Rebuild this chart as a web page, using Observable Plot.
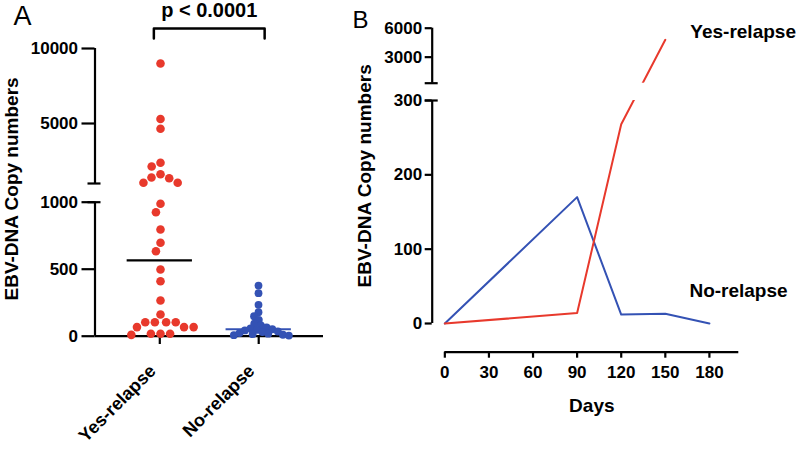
<!DOCTYPE html>
<html><head><meta charset="utf-8">
<script src="https://cdn.jsdelivr.net/npm/d3@7"></script>
<script src="https://cdn.jsdelivr.net/npm/@observablehq/plot@0.6"></script>
<style>
body{margin:0;background:#fff;}
#wrap{position:relative;width:797px;height:449px;overflow:hidden;}
#wrap svg{position:absolute;top:0;}
</style></head><body><div id="wrap"></div>
<script>
// ---------- data ----------
const groups = ["Yes-relapse", "No-relapse"];
const yesRelapse = [9000, 5300, 4650, 2380, 2130, 1620, 1400, 1350, 1050, 1050,
  988, 925, 796, 697, 634, 498, 410, 266, 162, 104, 104, 104, 104, 68, 68, 68, 18, 18, 18, 10];
const noRelapse = [378, 321, 234, 179, 149, 122, 93, 80, 66, 58, 52, 47, 43, 35, 31, 23, 19, 15, 11, 8, 5];
const pLabel = "p < 0.0001";
const aLowerTicks = [0, 500, 1000];
const aUpperTicks = [5000, 10000];
const aLower = [0, 1000], aUpper = [1000, 10000];

const dayTicks = [0, 30, 60, 90, 120, 150, 180];
const yesDays = [0, 90, 120, 150];
const yesValues = [0, 14, 268, 4800];
const noDays = [0, 90, 120, 150, 180];
const noValues = [0, 170, 12, 13, 0];
const bLowerTicks = [0, 100, 200, 300];
const bUpperTicks = [3000, 6000];
const bLower = [0, 300], bUpper = [300, 6000];
const yTitle = "EBV-DNA Copy numbers";
const xTitle = "Days";

// ---------- style ----------
const RED = "#e8392c", BLUE = "#3452b4";
const FONT = "font-family:'Liberation Sans',Arial,sans-serif;font-weight:bold;color:#000;";
const SW = 2.2;

// broken-axis mapping: value -> display units (pixels above baseline)
function broken(lower, upper, hLo, gap, hUp) {
  const lo = v => (v - lower[0]) / (lower[1] - lower[0]) * hLo;
  const up = v => hLo + gap + (v - upper[0]) / (upper[1] - upper[0]) * hUp;
  const f = v => v <= lower[1] ? lo(v) : up(v);
  f.lo = lo; f.up = up; f.loTop = hLo; f.upBottom = hLo + gap; f.top = hLo + gap + hUp;
  return f;
}

const wrap = document.getElementById("wrap");

// ================= Panel A =================
const fA = broken(aLower, aUpper, 134, 18.7, 135);
const A = {width: 340, height: 449, marginLeft: 94.5, marginRight: 17, marginTop: 48, marginBottom: 113.3};
const axA = [-0.655, 1.655];
const medians = [yesRelapse, noRelapse].map((vals, i) => ({i, m: d3.median(vals)}));
const medianColor = ["black", BLUE];
const bracketPad = 0.06, bracketRise = 20, bracketTip = 10;
const bracket = [
  {x: 0 - bracketPad, y: fA.top + bracketTip},
  {x: 0 - bracketPad, y: fA.top + bracketRise},
  {x: 1 + bracketPad, y: fA.top + bracketRise},
  {x: 1 + bracketPad, y: fA.top + bracketTip}
];

const baseA = Plot.plot({
  ...A,
  style: FONT,
  x: {domain: axA, axis: null},
  y: {domain: [0, fA.top], axis: null},
  marks: [
    Plot.ruleY(medians, {y: d => fA(d.m), x1: d => d.i - 0.33, x2: d => d.i + 0.33, stroke: d => medianColor[d.i], strokeWidth: SW}),
    Plot.ruleX([axA[0]], {y1: 0, y2: fA.loTop, strokeWidth: SW}),
    Plot.ruleX([axA[0]], {y1: fA.upBottom, y2: fA.top, strokeWidth: SW}),
    Plot.ruleY([0], {x1: axA[0], x2: axA[1], strokeWidth: SW}),
    Plot.ruleY(aLowerTicks, {y: fA.lo, x1: axA[0], x2: axA[0], insetLeft: -13, strokeWidth: SW}),
    Plot.ruleY(aUpperTicks, {y: fA.up, x1: axA[0], x2: axA[0], insetLeft: -13, strokeWidth: SW}),
    Plot.ruleY([fA.loTop, fA.upBottom], {y: d => d, x1: axA[0], x2: axA[0], insetLeft: -7, insetRight: -6, strokeWidth: SW}),
    Plot.text(aLowerTicks, {x: axA[0], y: fA.lo, text: d => String(d), textAnchor: "end", dx: -17, fontSize: 17}),
    Plot.text(aUpperTicks, {x: axA[0], y: fA.up, text: d => String(d), textAnchor: "end", dx: -17, fontSize: 17}),
    Plot.ruleX(groups, {x: (d, i) => i, y1: 0, y2: -8.3, strokeWidth: SW}),
    Plot.text(groups, {x: (d, i) => i, y: -36, text: d => d, rotate: -45, textAnchor: "end", lineAnchor: "bottom", dx: -3, fontSize: 18}),
    Plot.line(bracket, {x: "x", y: "y", strokeWidth: 2.5}),
    Plot.text([pLabel], {x: 0.5, y: fA.top + 32, text: d => d, lineAnchor: "bottom", fontSize: 20}),
    Plot.text([yTitle], {frameAnchor: "left", textAnchor: "middle", dx: -82.8, dy: -3.4, rotate: -90, text: d => d, fontSize: 19}),
    Plot.text(["A"], {frameAnchor: "top-left", dx: 13 - 94.5, dy: 24 - 48, textAnchor: "start", lineAnchor: "bottom", text: d => d, fontSize: 27, fontWeight: "normal"})
  ]
});
baseA.style.left = "0px";
wrap.appendChild(baseA);

const dotsA = Plot.plot({
  ...A,
  style: FONT + "background:transparent;",
  fx: {domain: groups, paddingInner: 0, paddingOuter: 0.155, axis: null, label: null},
  x: {axis: null},
  y: {domain: [0, fA.top], axis: null},
  marks: [
    Plot.dot(yesRelapse.map(v => ({group: groups[0], value: v})),
      Plot.dodgeX({anchor: "middle", padding: 1}, {fx: "group", y: d => fA(d.value), r: 4.3, fill: RED})),
    Plot.dot(noRelapse.map(v => ({group: groups[1], value: v})),
      Plot.dodgeX({anchor: "middle", padding: -1.8}, {fx: "group", y: d => fA(d.value), r: 3.9, fill: BLUE}))
  ]
});
dotsA.style.left = "0px";
wrap.appendChild(dotsA);

// ================= Panel B =================
const fB = broken(bLower, bUpper, 223, 17.3, 55);
const B = {width: 457, height: 449, marginLeft: 91.7, marginRight: 58.7, marginTop: 27.7, marginBottom: 126};
const axB = [-8.6, 200];
const xAxisOffset = -28.7;
const redSeries = yesDays.map((d, i) => ({day: d, value: yesValues[i]}));
const blueSeries = noDays.map((d, i) => ({day: d, value: noValues[i]}));

const plotB = Plot.plot({
  ...B,
  style: FONT + "background:transparent;",
  x: {domain: axB, axis: null},
  y: {domain: [0, fB.top], axis: null},
  marks: [
    Plot.line(blueSeries, {x: "day", y: d => fB(d.value), stroke: BLUE, strokeWidth: 2}),
    Plot.line(redSeries, {x: "day", y: d => fB(d.value), stroke: RED, strokeWidth: 2}),
    Plot.rect([0], {x1: 0, x2: axB[1], y1: fB.loTop, y2: fB.upBottom, fill: "white"}),
    Plot.ruleX([axB[0]], {y1: 0, y2: fB.loTop, strokeWidth: SW}),
    Plot.ruleX([axB[0]], {y1: fB.upBottom, y2: fB.top, strokeWidth: SW}),
    Plot.ruleY(bLowerTicks, {y: fB.lo, x1: axB[0], x2: axB[0], insetLeft: -7, strokeWidth: SW}),
    Plot.ruleY(bUpperTicks, {y: fB.up, x1: axB[0], x2: axB[0], insetLeft: -7, strokeWidth: SW}),
    Plot.ruleY([fB.loTop, fB.upBottom], {y: d => d, x1: axB[0], x2: axB[0], insetLeft: -7, insetRight: -6, strokeWidth: SW}),
    Plot.text(bLowerTicks, {x: axB[0], y: fB.lo, text: d => String(d), textAnchor: "end", dx: -10, fontSize: 17}),
    Plot.text(bUpperTicks, {x: axB[0], y: fB.up, text: d => String(d), textAnchor: "end", dx: -10, fontSize: 17}),
    Plot.ruleY([xAxisOffset], {x1: 0, x2: axB[1], strokeWidth: SW}),
    Plot.ruleX(dayTicks, {x: d => d, y1: xAxisOffset, y2: xAxisOffset - 6, strokeWidth: SW}),
    Plot.text(dayTicks, {x: d => d, y: xAxisOffset - 20, text: d => String(d), fontSize: 17}),
    Plot.text([xTitle], {x: (0 + axB[1]) / 2, y: xAxisOffset - 54, text: d => d, fontSize: 19}),
    Plot.text([yTitle], {frameAnchor: "left", textAnchor: "middle", dx: -67.7, rotate: -90, text: d => d, fontSize: 19}),
    Plot.text([redSeries[redSeries.length - 1]], {x: "day", y: d => fB(d.value), text: () => groups[0], textAnchor: "start", dx: 25, dy: -7.4, fontSize: 19}),
    Plot.text([blueSeries[blueSeries.length - 1]], {x: "day", y: d => fB(d.value), text: () => groups[1], textAnchor: "start", dx: -20, dy: -32.4, fontSize: 19}),
    Plot.text(["B"], {frameAnchor: "top-left", dx: 12 - 91.7, dy: 27 - 27.7, textAnchor: "start", lineAnchor: "bottom", text: d => d, fontSize: 24, fontWeight: "normal"})
  ]
});
plotB.style.left = "340px";
wrap.appendChild(plotB);
</script></body></html>
